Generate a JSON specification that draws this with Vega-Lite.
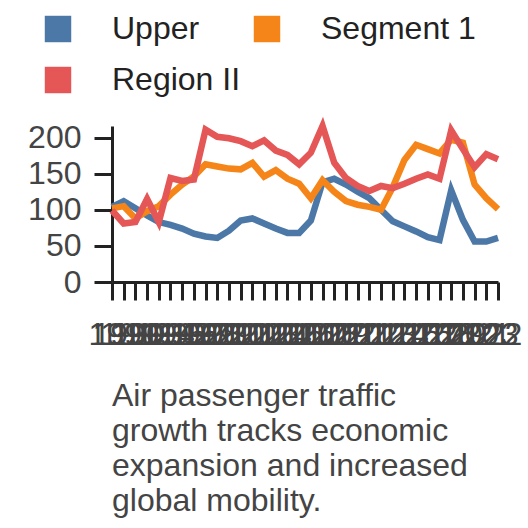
{
  "$schema": "https://vega.github.io/schema/vega-lite/v6.json",
  "width": 386,
  "height": 156,
  "autosize": "none",
  "padding": {"left": 112, "right": 30, "top": 126, "bottom": 246},
  "title": {
    "text": ["Air passenger traffic", "growth tracks economic", "expansion and increased", "global mobility."],
    "orient": "bottom",
    "anchor": "start",
    "frame": "group",
    "fontSize": 32,
    "fontWeight": "normal",
    "font": "Liberation Sans",
    "color": "#444444",
    "lineHeight": 35,
    "offset": 31
  },
  "data": {
    "values": [
      {"year": 1990, "series": "Upper", "value": 104},
      {"year": 1991, "series": "Upper", "value": 112},
      {"year": 1992, "series": "Upper", "value": 102},
      {"year": 1993, "series": "Upper", "value": 92},
      {"year": 1994, "series": "Upper", "value": 83},
      {"year": 1995, "series": "Upper", "value": 79},
      {"year": 1996, "series": "Upper", "value": 74},
      {"year": 1997, "series": "Upper", "value": 67},
      {"year": 1998, "series": "Upper", "value": 63},
      {"year": 1999, "series": "Upper", "value": 61},
      {"year": 2000, "series": "Upper", "value": 71},
      {"year": 2001, "series": "Upper", "value": 85},
      {"year": 2002, "series": "Upper", "value": 88},
      {"year": 2003, "series": "Upper", "value": 81},
      {"year": 2004, "series": "Upper", "value": 74},
      {"year": 2005, "series": "Upper", "value": 68},
      {"year": 2006, "series": "Upper", "value": 68},
      {"year": 2007, "series": "Upper", "value": 85},
      {"year": 2008, "series": "Upper", "value": 138},
      {"year": 2009, "series": "Upper", "value": 143},
      {"year": 2010, "series": "Upper", "value": 135},
      {"year": 2011, "series": "Upper", "value": 125},
      {"year": 2012, "series": "Upper", "value": 116},
      {"year": 2013, "series": "Upper", "value": 100},
      {"year": 2014, "series": "Upper", "value": 84},
      {"year": 2015, "series": "Upper", "value": 77},
      {"year": 2016, "series": "Upper", "value": 70},
      {"year": 2017, "series": "Upper", "value": 62},
      {"year": 2018, "series": "Upper", "value": 58},
      {"year": 2019, "series": "Upper", "value": 127},
      {"year": 2020, "series": "Upper", "value": 86},
      {"year": 2021, "series": "Upper", "value": 56},
      {"year": 2022, "series": "Upper", "value": 56},
      {"year": 2023, "series": "Upper", "value": 61},
      {"year": 1990, "series": "Segment 1", "value": 102},
      {"year": 1991, "series": "Segment 1", "value": 105},
      {"year": 1992, "series": "Segment 1", "value": 88},
      {"year": 1993, "series": "Segment 1", "value": 98},
      {"year": 1994, "series": "Segment 1", "value": 105},
      {"year": 1995, "series": "Segment 1", "value": 121},
      {"year": 1996, "series": "Segment 1", "value": 135},
      {"year": 1997, "series": "Segment 1", "value": 146},
      {"year": 1998, "series": "Segment 1", "value": 163},
      {"year": 1999, "series": "Segment 1", "value": 160},
      {"year": 2000, "series": "Segment 1", "value": 157},
      {"year": 2001, "series": "Segment 1", "value": 156},
      {"year": 2002, "series": "Segment 1", "value": 165},
      {"year": 2003, "series": "Segment 1", "value": 146},
      {"year": 2004, "series": "Segment 1", "value": 155},
      {"year": 2005, "series": "Segment 1", "value": 143},
      {"year": 2006, "series": "Segment 1", "value": 136},
      {"year": 2007, "series": "Segment 1", "value": 116},
      {"year": 2008, "series": "Segment 1", "value": 141},
      {"year": 2009, "series": "Segment 1", "value": 125},
      {"year": 2010, "series": "Segment 1", "value": 112},
      {"year": 2011, "series": "Segment 1", "value": 107},
      {"year": 2012, "series": "Segment 1", "value": 104},
      {"year": 2013, "series": "Segment 1", "value": 100},
      {"year": 2014, "series": "Segment 1", "value": 131},
      {"year": 2015, "series": "Segment 1", "value": 169},
      {"year": 2016, "series": "Segment 1", "value": 190},
      {"year": 2017, "series": "Segment 1", "value": 184},
      {"year": 2018, "series": "Segment 1", "value": 178},
      {"year": 2019, "series": "Segment 1", "value": 197},
      {"year": 2020, "series": "Segment 1", "value": 193},
      {"year": 2021, "series": "Segment 1", "value": 135},
      {"year": 2022, "series": "Segment 1", "value": 116},
      {"year": 2023, "series": "Segment 1", "value": 101},
      {"year": 1990, "series": "Region II", "value": 99},
      {"year": 1991, "series": "Region II", "value": 81},
      {"year": 1992, "series": "Region II", "value": 83},
      {"year": 1993, "series": "Region II", "value": 115},
      {"year": 1994, "series": "Region II", "value": 83},
      {"year": 1995, "series": "Region II", "value": 144},
      {"year": 1996, "series": "Region II", "value": 140},
      {"year": 1997, "series": "Region II", "value": 142},
      {"year": 1998, "series": "Region II", "value": 211},
      {"year": 1999, "series": "Region II", "value": 201},
      {"year": 2000, "series": "Region II", "value": 199},
      {"year": 2001, "series": "Region II", "value": 195},
      {"year": 2002, "series": "Region II", "value": 188},
      {"year": 2003, "series": "Region II", "value": 196},
      {"year": 2004, "series": "Region II", "value": 182},
      {"year": 2005, "series": "Region II", "value": 176},
      {"year": 2006, "series": "Region II", "value": 163},
      {"year": 2007, "series": "Region II", "value": 179},
      {"year": 2008, "series": "Region II", "value": 216},
      {"year": 2009, "series": "Region II", "value": 165},
      {"year": 2010, "series": "Region II", "value": 144},
      {"year": 2011, "series": "Region II", "value": 133},
      {"year": 2012, "series": "Region II", "value": 126},
      {"year": 2013, "series": "Region II", "value": 133},
      {"year": 2014, "series": "Region II", "value": 130},
      {"year": 2015, "series": "Region II", "value": 136},
      {"year": 2016, "series": "Region II", "value": 143},
      {"year": 2017, "series": "Region II", "value": 149},
      {"year": 2018, "series": "Region II", "value": 143},
      {"year": 2019, "series": "Region II", "value": 210},
      {"year": 2020, "series": "Region II", "value": 184},
      {"year": 2021, "series": "Region II", "value": 159},
      {"year": 2022, "series": "Region II", "value": 177},
      {"year": 2023, "series": "Region II", "value": 170}
    ]
  },
  "mark": {"type": "line", "strokeWidth": 6.5},
  "encoding": {
    "x": {
      "field": "year",
      "type": "ordinal",
      "title": null,
      "scale": {"padding": 0},
      "axis": {"labelAngle": 0, "labelPadding": 19, "labelFlush": true, "labelFlushOffset": 20}
    },
    "y": {
      "field": "value",
      "type": "quantitative",
      "title": null,
      "scale": {"nice": false},
      "axis": {"values": [0, 50, 100, 150, 200], "grid": false, "labelPadding": 13}
    },
    "color": {
      "field": "series",
      "type": "nominal",
      "sort": ["Upper", "Segment 1", "Region II"],
      "scale": {"domain": ["Upper", "Segment 1", "Region II"], "range": ["#4c78a8", "#f58518", "#e45756"]},
      "legend": {
        "title": null,
        "orient": "none",
        "direction": "horizontal",
        "legendX": -70,
        "legendY": -113,
        "columns": 2,
        "columnPadding": 10,
        "rowPadding": 19,
        "symbolType": "square",
        "symbolSize": 700,
        "symbolStrokeWidth": 0,
        "labelFontSize": 32,
        "labelOffset": 38,
        "labelColor": "#222222",
        "encode": {"symbols": {"update": {"fill": {"scale": "color", "field": "value"}, "fillOpacity": {"value": 1}}}}
      }
    }
  },
  "config": {
    "font": "Liberation Sans",
    "view": {"stroke": null},
    "axis": {
      "labelFontSize": 32,
      "labelColor": "#444444",
      "domainColor": "#222222",
      "domainWidth": 3,
      "tickColor": "#222222",
      "tickWidth": 3,
      "tickSize": 18
    }
  }
}
